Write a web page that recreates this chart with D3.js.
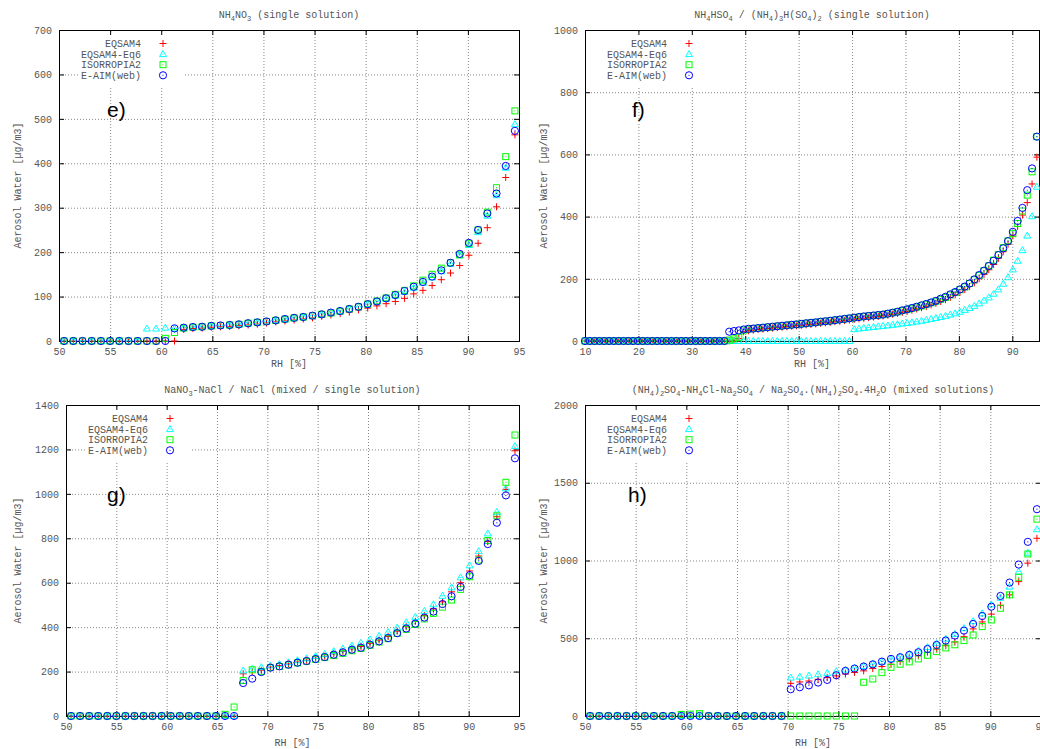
<!DOCTYPE html>
<html>
<head>
<meta charset="utf-8">
<script src="https://cdn.jsdelivr.net/npm/d3@7"></script>
<style>
  body { margin: 0; background: #fff; }
  svg text { font-family: "Liberation Mono", "DejaVu Sans Mono", monospace; font-size: 10px; fill: #555; }
  svg text.tag { font-family: "Liberation Sans", Arial, sans-serif; font-size: 21px; fill: #000; }
  .grid line { stroke: #888; stroke-dasharray: 1,2; }
  .grid path, .ticks path { display: none; }
  .ticks line { stroke: #000; }
</style>
</head>
<body>
<svg id="chart" width="1040" height="749"></svg>
<script>

// relative humidity grid used by all panels (full range for panel f)
var rhAll = [10.0, 10.9, 11.8, 12.7, 13.6, 14.5, 15.4, 16.3, 17.2, 18.1,
             19.0, 19.9, 20.8, 21.7, 22.6, 23.5, 24.4, 25.3, 26.2, 27.1,
             28.0, 28.9, 29.8, 30.7, 31.6, 32.5, 33.4, 34.3, 35.2, 36.1,
             37.0, 37.9, 38.8, 39.7, 40.6, 41.5, 42.4, 43.3, 44.2, 45.1,
             46.0, 46.9, 47.8, 48.7, 49.6, 50.5, 51.4, 52.3, 53.2, 54.1,
             55.0, 55.9, 56.8, 57.7, 58.6, 59.5, 60.4, 61.3, 62.2, 63.1,
             64.0, 64.9, 65.8, 66.7, 67.6, 68.5, 69.4, 70.3, 71.2, 72.1,
             73.0, 73.9, 74.8, 75.7, 76.6, 77.5, 78.4, 79.3, 80.2, 81.1,
             82.0, 82.9, 83.8, 84.7, 85.6, 86.5, 87.4, 88.3, 89.2, 90.1,
             91.0, 91.9, 92.8, 93.7, 94.6];
var rhHigh = [50.5, 51.4, 52.3, 53.2, 54.1, 55.0, 55.9, 56.8, 57.7, 58.6,
              59.5, 60.4, 61.3, 62.2, 63.1, 64.0, 64.9, 65.8, 66.7, 67.6,
              68.5, 69.4, 70.3, 71.2, 72.1, 73.0, 73.9, 74.8, 75.7, 76.6,
              77.5, 78.4, 79.3, 80.2, 81.1, 82.0, 82.9, 83.8, 84.7, 85.6,
              86.5, 87.4, 88.3, 89.2, 90.1, 91.0, 91.9, 92.8, 93.7, 94.6];

var seriesNames = ["EQSAM4", "EQSAM4-Eq6", "ISORROPIA2", "E-AIM(web)"];
var seriesColors = ["#ff0000", "#00ffff", "#00ff00", "#0000ff"];
var seriesShapes = ["plus", "triangle", "square", "circle"];

// panel e) NH4NO3
var eEqsam4 = [0,0,0,0,0,0,0,0,0,0, 0,0,0,
  26,28,29,31,32,33,34.5,36,38,40.5, 43,45,47,49.5,52,55.5,58.5,61.5,65,70,
  74,79,84,89,96,106,114,125,138,153, 170,193,220,255,302,368,464];
var eEq6 = [0,0,0,0,0,0,0,0,0, 28,28,30,
  28,29.5,31,32,33.5,35,36,37.5,40,42, 44,46.5,49.5,52,54,57,60,64,67.5,72,
  77,83,89,95,102,110,120,131,143,157, 174,193,216,245,282,328,390,488];
var eIsorropia = [0,0,0,0,0,0,0,0,0,0, 0, 6, 19,
  29,31,32,34,35,36,37.5,40,42,44, 46.5,49,52,54,57,60,63,67,72,77,
  83,90,97,105,114,124,137,150,164,176, 194,219,250,290,345,415,518];
var eAim = [0,0,0,0,0,0,0,0,0,0, 0,0,
  28.5,30,31.5,32,34,35,36,37.5,40,42, 44,46.5,49.5,52,54,57,60,64,67.5,72,
  77,83,89,96,103.5,112.5,122,133,145,159, 176,196,221,250,287,332,394,473];

// panel f) NH4HSO4 / (NH4)3H(SO4)2
var fEqsam4 = [0,0,0,0,0,0,0,0,0,0, 0,0,0,0,0,0,0,0,0,0, 0,0,0,0,0,0,0,0,0,0, 0,
  2,8,30,
  33,35,37,38.5,40,41.5,43,44.5,46,47.5, 49,50.5,52,53.5,55,57,58.5,60,62,63.5,
  65.5,67.5,69.5,71,73,75,77,79,81,83, 86,89,92,95,99,103,107,111,116,121,
  127,133,140,148,156,165,175,187,200,214, 229,246,266,287,311,338,368,405,445,505,
  591];
var fEq6 = [0,0,0,0,0,0,0,0,0,0, 0,0,0,0,0,0,0,0,0,0, 0,0,0,0,0,0,0,0,0,0,
  0,0,0,0,0,0,0,0,0,0, 0,0,0,0,0,0,0,0,0,0, 0,0,0,0,0,0,
  38,40,42,43.5,45,47,48.5,50,52,54, 56,58,60,62.5,65,68,71,74,77,81,
  85,89,94,100,106,113,121,130,140,152, 166,184,205,230,258,292,339,401,496];
var fIsorropia = [0,0,0,0,0,0,0,0,0,0, 0,0,0,0,0,0,0,0,0,0, 0,0,0,0,0,0,0,0,0,0,
  3,7,12,35,
  38,40,41.5,43,44.5,46,47.5,49,50.5,52, 53.5,55,57,58.5,60,62,63.5,65,67,69,
  71,73,75,77,79,80.5,82,83.5,85,88, 91,94,98,101,105,109,113,118,123,128,
  134,140,148,156,165,174,185,197,211,226, 242,260,278,300,322,345,378,418,469,544,
  657];
var fAim = [0,0,0,0,0,0,0,0,0,0, 0,0,0,0,0,0,0,0,0,0, 0,0,0,0,0,0,0,0,0,0,
  30,32,34,37,
  39,40,41.5,43,44.5,46,47.5,49,50.5,52, 53.5,55,57,58.5,60,62,63.5,65,67,69,
  71,73,75,77,79,80.5,82,83.5,85,88, 91,94,98.5,102,106,110,114.6,119,124,129,
  136,142,150,157.5,166,175,185,198,212,226, 241,258,276,298,321,351,386,428,485,555,
  657];

// panel g) NaNO3-NaCl / NaCl
var gEqsam4 = [0,0,0,0,0,0,0,0,0,0, 0,0,0,0,0,0,0,0,0,
  190,200,206,
  220,227,234,243,251,260,269,280,291,302,313,327,342,358,
  382,402,426,452,482,514,559,600,653,720,785,897,1020,1194];
var gEq6 = [0,0,0,0,0,0,0,0,0,0, 0,0,0,0,0,0,0,0,0,
  205,212,220,
  228,234,242,251,260,270,280,292,304,317,330,345,361,378,
  398,422,446,473,503,541,579,624,678,742,822,919,1025,1215];
var gIsorropia = [0,0,0,0,0,0,0,0,0,0, 0,0,0,0,0,0,0,
  7.5,40.5,
  160,208,201,
  218,223,230,239,246,255,263,272,282,294,304,318,333,348,
  372,390,412,437,462,490,522,570,627,702,790,901,1052,1265];
var gAim = [0,0,0,0,0,0,0,0,0,0, 0,0,0,0,0,0,0,0,0,
  148.5,168,198,
  217.5,223.5,231,240,247.5,256.5,265.5,276,286.5,298.5,307.5,321,336,351,
  373,394,416,443,470,504,539,581,634,698,774,870,993,1160];

// panel h) (NH4)2SO4-NH4Cl-Na2SO4 / Na2SO4.(NH4)2SO4.4H2O
var hEqsam4 = [0,0,0,0,0,0,0,0,0,0, 0,0,0,0,0,0,0,0,0,0, 0,0,
  210,219,225,236,247,258,270,280,290,305,
  318,333,350,368,388,408,430,452,476,510,
  560,605,655,712,779,864,983,1143];
var hEq6 = [0,0,0,0,0,0,0,0,0,0, 0,0,0,0,0,0,0,0,0,0, 0,0,
  247,253,260,268,277,288,298,310,322,335,
  350,365,383,400,420,443,468,497,528,565,
  610,660,718,760,832,929,1050,1201];
var hIsorropia = [0,0,0,0,0,0,0,0,0,0,
  10,12,15,
  0,0,0,0,0,0,0,0,0,0, 0,0,0,0,0,0,0,
  217,238,279,313,333,348,367,390,414,438,
  458,485,521,575,618,693,779,892,1042,1266];
var hAim = [0,0,0,0,0,0,0,0,0,0, 0,0,0,0,0,0,0,0,0,0, 0,0,
  172,185,197,215,232,262,290,305,318,332,
  350,367,378,393,410,431,457,485,517,549,
  592,643,703,772,858,974,1120,1330];

// tick values
var xTicksHigh = [50, 55, 60, 65, 70, 75, 80, 85, 90, 95];
var xTicksF = [10, 20, 30, 40, 50, 60, 70, 80, 90];
var yTicksE = [0, 100, 200, 300, 400, 500, 600, 700];
var yTicksF = [0, 200, 400, 600, 800, 1000];
var yTicksG = [0, 200, 400, 600, 800, 1000, 1200, 1400];
var yTicksH = [0, 500, 1000, 1500, 2000];

var panels = [
  { tag: "e)", tagPos: [107, 117], title: "NH_4NO_3 (single solution)",
    left: 59, right: 519, top: 30, bottom: 341, xDomain: [50, 95], yDomain: [0, 700],
    xTicks: xTicksHigh, yTicks: yTicksE, ylabX: 20.5, xlabY: 367,
    rh: rhHigh, series: [eEqsam4, eEq6, eIsorropia, eAim] },
  { tag: "f)", tagPos: [632, 117], title: "NH_4HSO_4 / (NH_4)_3H(SO_4)_2 (single solution)",
    left: 585, right: 1039, top: 30, bottom: 341, xDomain: [10, 95], yDomain: [0, 1000],
    xTicks: xTicksF, yTicks: yTicksF, ylabX: 546.5, xlabY: 367,
    rh: rhAll, series: [fEqsam4, fEq6, fIsorropia, fAim] },
  { tag: "g)", tagPos: [107, 502], title: "NaNO_3-NaCl / NaCl (mixed / single solution)",
    left: 66, right: 519, top: 405, bottom: 716, xDomain: [50, 95], yDomain: [0, 1400],
    xTicks: xTicksHigh, yTicks: yTicksG, ylabX: 20.5, xlabY: 746,
    rh: rhHigh, series: [gEqsam4, gEq6, gIsorropia, gAim] },
  { tag: "h)", tagPos: [628, 502], title: "(NH_4)_2SO_4-NH_4Cl-Na_2SO_4 / Na_2SO_4.(NH_4)_2SO_4.4H_2O (mixed solutions)",
    left: 585, right: 1041, top: 405, bottom: 716, xDomain: [50, 95], yDomain: [0, 2000],
    xTicks: xTicksHigh, yTicks: yTicksH, ylabX: 546.5, xlabY: 746,
    rh: rhHigh, series: [hEqsam4, hEq6, hIsorropia, hAim] }
];

var svg = d3.select("#chart");

function drawMarker(sel, shape, color) {
  if (shape == "plus") {
    sel.append("path").attr("d", "M-3.5,0H3.5M0,-3.5V3.5")
      .attr("stroke", color).attr("fill", "none");
    return;
  }
  if (shape == "triangle") {
    sel.append("path").attr("d", "M0,-3.5L3.5,2.5L-3.5,2.5Z")
      .attr("stroke", color).attr("fill", "none");
  } else if (shape == "square") {
    sel.append("rect").attr("x", -3).attr("y", -3).attr("width", 6).attr("height", 6)
      .attr("stroke", color).attr("fill", "none");
  } else {
    sel.append("circle").attr("r", 3.6).attr("stroke", color).attr("fill", "none");
  }
  // gnuplot puts a dot in the middle of open symbols
  sel.append("rect").attr("x", -0.5).attr("y", -0.5).attr("width", 1).attr("height", 1)
    .attr("fill", color);
}

// title text where "_x" means subscript x
function addRichText(textSel, str) {
  var i = 0, buf = "", lowered = false;
  function flush() {
    if (!buf.length) return;
    var ts = textSel.append("tspan").text(buf);
    if (lowered) { ts.attr("dy", -3); lowered = false; }
    buf = "";
  }
  while (i < str.length) {
    if (str[i] == "_") {
      flush();
      textSel.append("tspan")
        .attr("dy", lowered ? 0 : 3)
        .style("font-size", "7px")
        .text(str[i + 1]);
      lowered = true;
      i += 2;
    } else {
      buf += str[i];
      i++;
    }
  }
  flush();
}

function drawPanel(p) {
  var x = d3.scaleLinear().domain(p.xDomain).range([p.left, p.right]);
  var y = d3.scaleLinear().domain(p.yDomain).range([p.bottom, p.top]);
  var w = p.right - p.left, h = p.bottom - p.top;
  var g = svg.append("g");

  // grid
  g.append("g").attr("class", "grid")
    .attr("transform", "translate(0," + p.bottom + ")")
    .call(d3.axisBottom(x).tickValues(p.xTicks).tickSize(-h).tickFormat(""));
  g.append("g").attr("class", "grid")
    .attr("transform", "translate(" + p.left + ",0)")
    .call(d3.axisLeft(y).tickValues(p.yTicks).tickSize(-w).tickFormat(""));

  // opaque key box
  g.append("rect")
    .attr("x", p.left + 21).attr("y", p.top + 4)
    .attr("width", 105).attr("height", 53)
    .attr("fill", "#fff");

  // ticks on all four sides, labels bottom and left
  g.append("g").attr("class", "ticks")
    .attr("transform", "translate(0," + p.bottom + ")")
    .call(d3.axisBottom(x).tickValues(p.xTicks).tickSize(-5).tickPadding(7).tickFormat(d3.format("d")));
  g.append("g").attr("class", "ticks")
    .attr("transform", "translate(0," + p.top + ")")
    .call(d3.axisTop(x).tickValues(p.xTicks).tickSize(-5).tickFormat(""));
  g.append("g").attr("class", "ticks")
    .attr("transform", "translate(" + p.left + ",0)")
    .call(d3.axisLeft(y).tickValues(p.yTicks).tickSize(-5).tickPadding(7).tickFormat(d3.format("d")));
  g.append("g").attr("class", "ticks")
    .attr("transform", "translate(" + p.right + ",0)")
    .call(d3.axisRight(y).tickValues(p.yTicks).tickSize(-5).tickFormat(""));

  g.append("rect")
    .attr("x", p.left + 0.5).attr("y", p.top + 0.5)
    .attr("width", w).attr("height", h)
    .attr("fill", "none").attr("stroke", "#000");

  // titles
  var t = g.append("text")
    .attr("x", (p.left + p.right) / 2).attr("y", p.top - 12.5)
    .attr("text-anchor", "middle");
  addRichText(t, p.title);

  g.append("text")
    .attr("x", (p.left + p.right) / 2).attr("y", p.xlabY)
    .attr("text-anchor", "middle")
    .text("RH [%]");

  g.append("text")
    .attr("transform", "translate(" + p.ylabX + "," + ((p.top + p.bottom) / 2) + ") rotate(-90)")
    .attr("text-anchor", "middle")
    .text("Aerosol Water [\u00b5g/m3]");

  g.append("text").attr("class", "tag")
    .attr("x", p.tagPos[0]).attr("y", p.tagPos[1])
    .text(p.tag);

  // key
  seriesNames.forEach(function(name, j) {
    var ky = p.top + 13.5 + 10.6 * j;
    g.append("text")
      .attr("x", p.left + 82).attr("y", ky).attr("dy", "0.35em")
      .attr("text-anchor", "end")
      .text(name);
    drawMarker(g.append("g").attr("transform", "translate(" + (p.left + 104) + "," + ky + ")"),
      seriesShapes[j], seriesColors[j]);
  });

  // points
  p.series.forEach(function(vals, j) {
    var pts = d3.zip(p.rh, vals);
    g.append("g").selectAll("g")
      .data(pts)
      .enter().append("g")
      .attr("transform", function(d) { return "translate(" + x(d[0]) + "," + y(d[1]) + ")"; })
      .each(function() { drawMarker(d3.select(this), seriesShapes[j], seriesColors[j]); });
  });
}

panels.forEach(drawPanel);

</script>
</body>
</html>
